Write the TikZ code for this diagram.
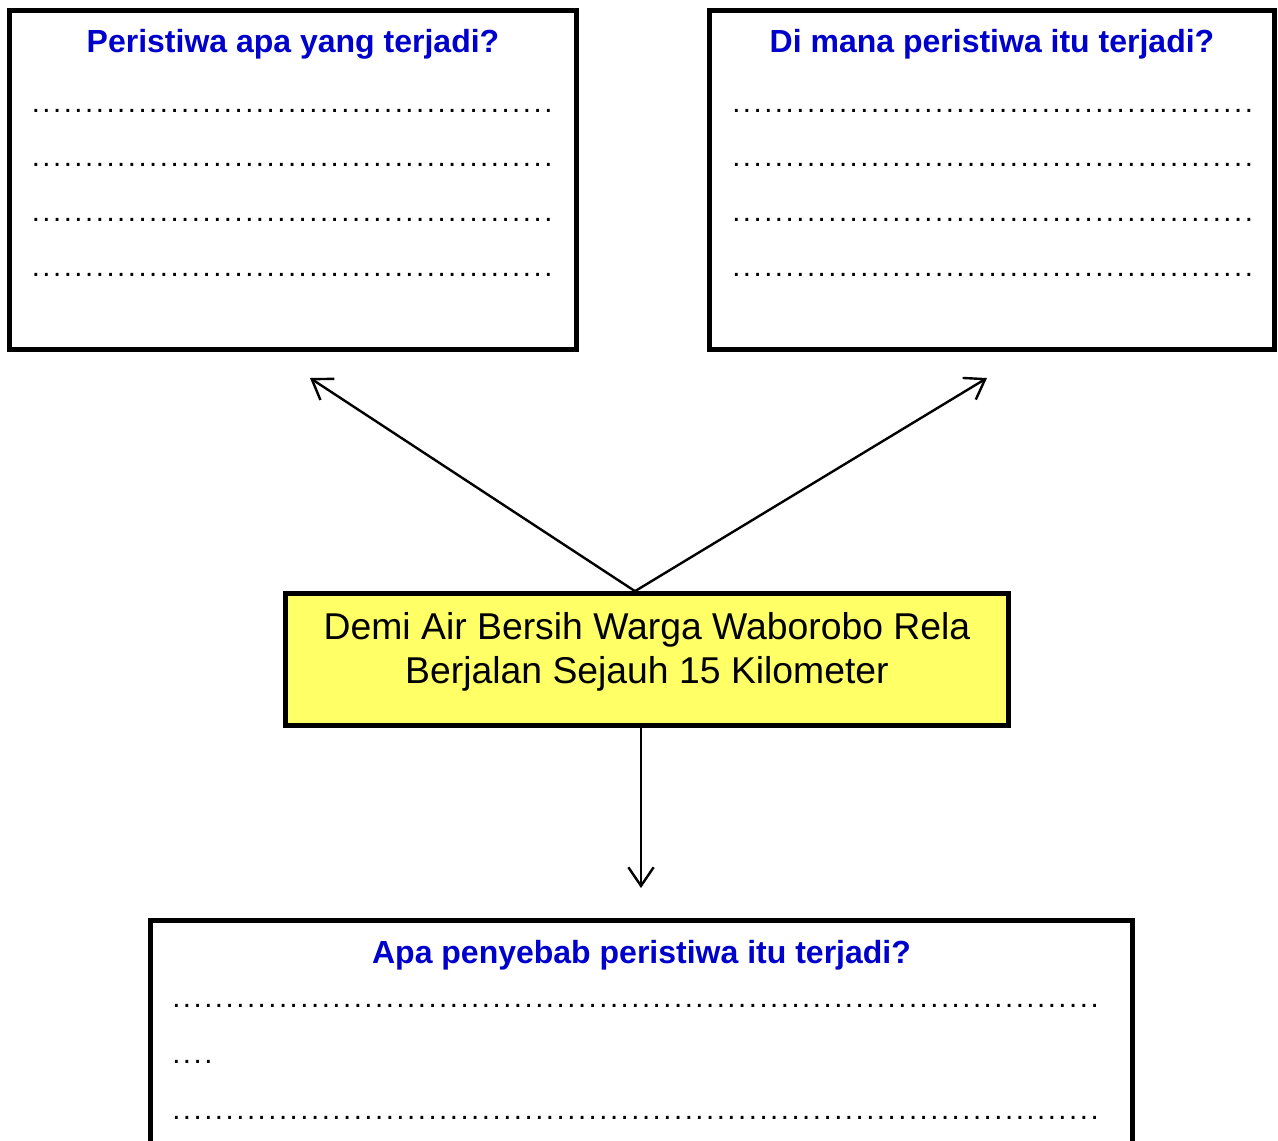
\documentclass[tikz,border=0pt]{standalone}
\usepackage{fontspec}
\setmainfont{Liberation Sans}
\newfontfamily\dotfont[LetterSpace=8.6]{Liberation Sans}
\usetikzlibrary{arrows.meta,calc}
\definecolor{qblue}{HTML}{0000CC}
\definecolor{boxyellow}{HTML}{FFFF66}
\tikzset{
  frame/.style={draw=black, line width=3.5pt, rectangle, inner sep=0pt},
  qtitle/.style={text=qblue, font=\bfseries\fontsize{24}{28}\selectfont, inner sep=0pt, anchor=base},
  dotrow/.style={font=\dotfont\fontsize{22}{24}\selectfont, inner sep=0pt, anchor=base west},
  link/.style={draw=black, line width=1.8pt, -{Straight Barb[length=14pt,width=19pt,line width=1.8pt]}}
}
\begin{document}
\begin{tikzpicture}[x=0.75pt,y=-0.75pt]
\clip (0,0) rectangle (1278,1140);
\fill[white] (0,0) rectangle (1278,1140);
% boxes
\node[frame, minimum width=425.25pt, minimum height=254.25pt] (tl) at (293,180) {};
\node[frame, minimum width=423.75pt, minimum height=254.25pt] (tr) at (992,180) {};
\node[frame, fill=boxyellow, minimum width=542.25pt, minimum height=99pt] (ctr) at (647,659.5) {};
\node[frame, minimum width=736.5pt, minimum height=187.125pt] (bot) at (641.5,1045.25) {};
% titles
\node[qtitle] (t1) at (293,52) {Peristiwa apa yang terjadi?};
\node[qtitle] (t2) at (992,52) {Di mana peristiwa itu terjadi?};
\node[qtitle] (t3) at (641.5,963) {Apa penyebab peristiwa itu terjadi?};
% centre text
\node[font=\fontsize{28}{33}\selectfont, align=center, inner sep=0pt, anchor=base] (ctext) at (647,683)
  {Demi Air Bersih Warga Waborobo Rela\\Berjalan Sejauh 15 Kilometer};
% dotted lines
\def\dotsL{.................................................}
\def\dotsB{.......................................................................................}
\node[dotrow] (l1) at (31.5,112) {\dotsL};
\node[dotrow] (l2) at (31.5,166.5) {\dotsL};
\node[dotrow] (l3) at (31.5,221.5) {\dotsL};
\node[dotrow] (l4) at (31.5,276.5) {\dotsL};
\node[dotrow] (r1) at (732,112) {\dotsL};
\node[dotrow] (r2) at (732,166.5) {\dotsL};
\node[dotrow] (r3) at (732,221.5) {\dotsL};
\node[dotrow] (r4) at (732,276.5) {\dotsL};
\node[dotrow] (b1) at (172,1007) {\dotsB};
\node[dotrow] (b2) at (172,1063) {....};
\node[dotrow] (b3) at (172,1119) {\dotsB};
% connectors
\coordinate (tipL) at (310,378);
\coordinate (tipR) at (987,378);
\coordinate (tipD) at (641,888);
\coordinate (src) at ($(ctr.north)+(-12,0)$);
\draw[link] (src) -- (tipL);
\draw[link] (src) -- (tipR);
\draw[link] ($(ctr.south)+(-6,0)$) -- (tipD);
\end{tikzpicture}
\end{document}
